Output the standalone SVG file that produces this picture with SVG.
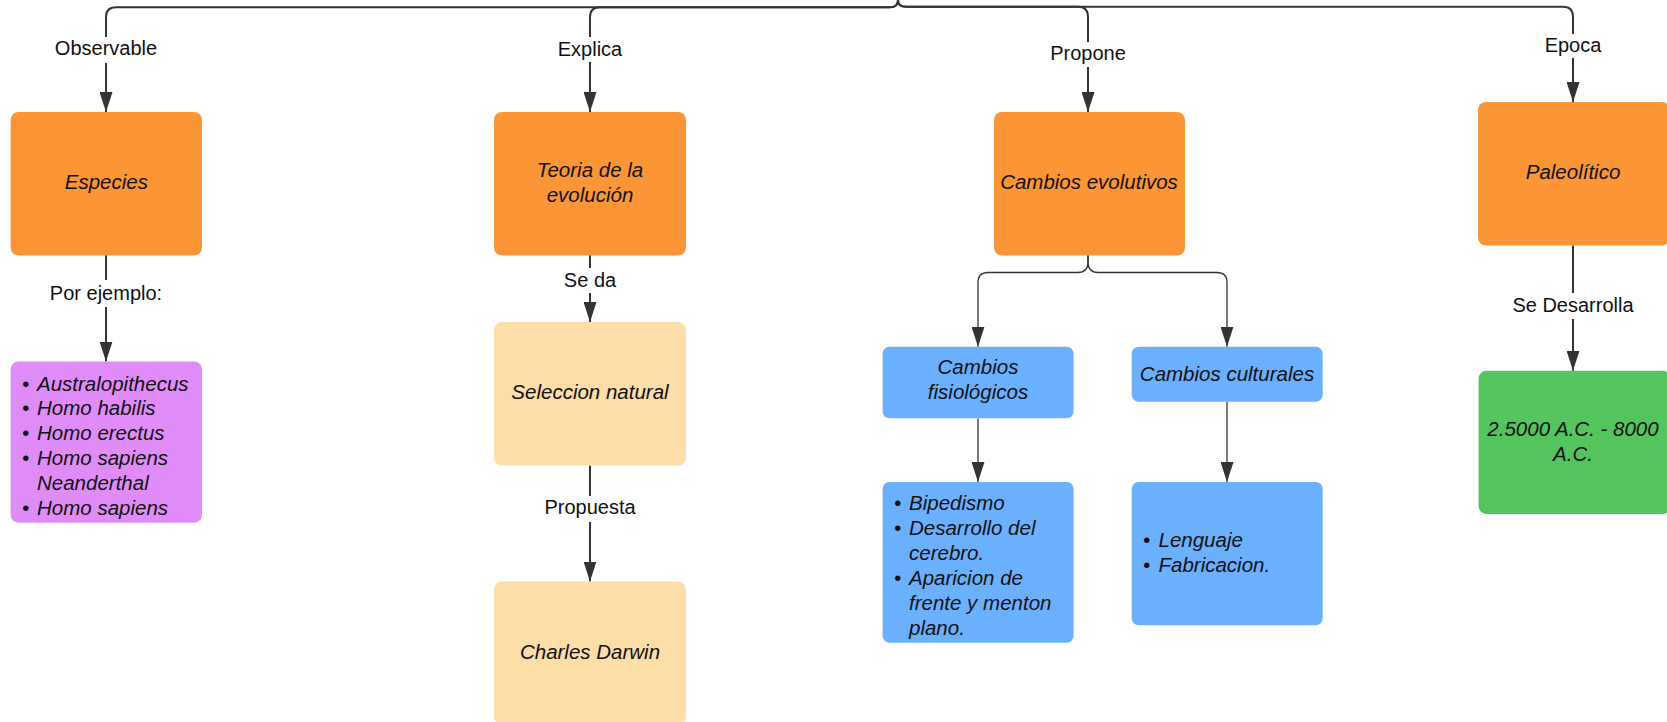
<svg xmlns="http://www.w3.org/2000/svg" width="1667" height="722" viewBox="0 0 1667 722">
<defs>
<style>
.orange{fill:#FC9535}
.purple{fill:#E08CF8}
.cream{fill:#FDDDA8}
.blue{fill:#6BB0FE}
.green{fill:#54C45E}
.nt{font-family:"Liberation Sans",Arial,sans-serif;font-size:20.5px;font-style:italic;fill:#111}
.lb{font-family:"Liberation Sans",Arial,sans-serif;font-size:20px;fill:#111;text-anchor:middle;dominant-baseline:central}
.c{text-anchor:middle;dominant-baseline:central}
.l{dominant-baseline:central}
.ln{fill:none;stroke:#333;stroke-width:2}
.thin{fill:none;stroke:#333;stroke-width:1.3}
.bg{fill:#fff}
</style>
<marker id="arr" markerWidth="20" markerHeight="13" refX="20" refY="6.5" orient="auto" markerUnits="userSpaceOnUse">
<path d="M0,0 L20,6.5 L0,13 Z" fill="#333"/>
</marker>
</defs>

<g id="connectors">
<path class="ln" d="M898,-4 L898,0 Q898,7.3 890,7.3 L116,7.3 Q106,7.3 106,17 L106,112" marker-end="url(#arr)"/>
<path class="ln" d="M898,0 Q898,7.3 890,7.3 L600,7.3 Q590,7.3 590,17 L590,112" marker-end="url(#arr)"/>
<path class="ln" d="M898,-4 L898,0 Q898,6.8 906,6.8 L1078,6.8 Q1088,6.8 1088,17 L1088,112" marker-end="url(#arr)"/>
<path class="ln" d="M898,0 Q898,6.8 906,6.8 L1563,6.8 Q1573,6.8 1573,17 L1573,102" marker-end="url(#arr)"/>
<path class="ln" d="M106,255 L106,361.5" marker-end="url(#arr)"/>
<path class="ln" d="M590,255 L590,322" marker-end="url(#arr)"/>
<path class="ln" d="M590,465.5 L590,581.5" marker-end="url(#arr)"/>
<path class="thin" d="M1088,255 L1088,262 Q1088,272.5 1078,272.5 L988,272.5 Q978,272.5 978,282.5 L978,346.7" marker-end="url(#arr)"/>
<path class="thin" d="M1088,255 L1088,262 Q1088,272.5 1098,272.5 L1217,272.5 Q1227,272.5 1227,282.5 L1227,346.7" marker-end="url(#arr)"/>
<path class="thin" d="M978,418.3 L978,482" marker-end="url(#arr)"/>
<path class="thin" d="M1227,401.7 L1227,482" marker-end="url(#arr)"/>
<path class="ln" d="M1573,245.6 L1573,370.7" marker-end="url(#arr)"/>

<rect class="bg" x="50" y="37" width="112" height="26"/>
<text class="lb" x="106" y="47.5">Observable</text>
<rect class="bg" x="552" y="37" width="76" height="25"/>
<text class="lb" x="590" y="48.5">Explica</text>
<rect class="bg" x="1046" y="42" width="84" height="25"/>
<text class="lb" x="1088" y="52.5">Propone</text>
<rect class="bg" x="1543" y="34" width="60" height="24"/>
<text class="lb" x="1573" y="44.5">Epoca</text>
<rect class="bg" x="44" y="280" width="124" height="27"/>
<text class="lb" x="106" y="293">Por ejemplo:</text>
<rect class="bg" x="560" y="268" width="60" height="25"/>
<text class="lb" x="590" y="280">Se da</text>
<rect class="bg" x="542" y="496" width="96" height="26"/>
<text class="lb" x="590" y="507">Propuesta</text>
<rect class="bg" x="1508" y="293" width="130" height="26"/>
<text class="lb" x="1573" y="305">Se Desarrolla</text>
</g>

<g id="especies">
<rect class="orange" x="10.6" y="112" width="191.4" height="143.5" rx="8"/>
<text class="nt c" x="106.3" y="181.5">Especies</text>
</g>

<g id="teoria">
<rect class="orange" x="494" y="112" width="192" height="143.5" rx="8"/>
<text class="nt c" x="590" y="169">Teoria de la</text>
<text class="nt c" x="590" y="194">evolución</text>
</g>

<g id="cambios-evolutivos">
<rect class="orange" x="994" y="112" width="191" height="143.5" rx="8"/>
<text class="nt c" x="1089" y="181.5">Cambios evolutivos</text>
</g>

<g id="paleolitico">
<rect class="orange" x="1478" y="102" width="192" height="143.6" rx="8"/>
<text class="nt c" x="1573" y="171">Paleolítico</text>
</g>

<g id="especies-lista">
<rect class="purple" x="10.6" y="361.5" width="191.4" height="161.2" rx="8"/>
<g class="nt l">
<text x="22" y="383">•</text><text x="37" y="383">Australopithecus</text>
<text x="22" y="407.8">•</text><text x="37" y="407.8">Homo habilis</text>
<text x="22" y="432.6">•</text><text x="37" y="432.6">Homo erectus</text>
<text x="22" y="457.4">•</text><text x="37" y="457.4">Homo sapiens</text>
<text x="37" y="482.2">Neanderthal</text>
<text x="22" y="507">•</text><text x="37" y="507">Homo sapiens</text>
</g>
</g>

<g id="seleccion">
<rect class="cream" x="494" y="322" width="192" height="143.5" rx="8"/>
<text class="nt c" x="590" y="391.5">Seleccion natural</text>
</g>

<g id="darwin">
<rect class="cream" x="494" y="581.5" width="192" height="143.5" rx="8"/>
<text class="nt c" x="590" y="651">Charles Darwin</text>
</g>

<g id="fisiologicos">
<rect class="blue" x="882.6" y="346.7" width="191" height="71.6" rx="7"/>
<text class="nt c" x="978" y="366">Cambios</text>
<text class="nt c" x="978" y="391">fisiológicos</text>
</g>

<g id="culturales">
<rect class="blue" x="1131.7" y="346.7" width="191" height="55" rx="7"/>
<text class="nt c" x="1227" y="373.5">Cambios culturales</text>
</g>

<g id="fisiologicos-lista">
<rect class="blue" x="882.6" y="482" width="191" height="160.7" rx="7"/>
<g class="nt l">
<text x="894" y="502.5">•</text><text x="909" y="502.5">Bipedismo</text>
<text x="894" y="527.5">•</text><text x="909" y="527.5">Desarrollo del</text>
<text x="909" y="552.5">cerebro.</text>
<text x="894" y="577.5">•</text><text x="909" y="577.5">Aparicion de</text>
<text x="909" y="602.5">frente y menton</text>
<text x="909" y="627.5">plano.</text>
</g>
</g>

<g id="culturales-lista">
<rect class="blue" x="1131.7" y="482" width="191" height="143.3" rx="7"/>
<g class="nt l">
<text x="1143" y="539">•</text><text x="1158.5" y="539">Lenguaje</text>
<text x="1143" y="564">•</text><text x="1158.5" y="564">Fabricacion.</text>
</g>
</g>

<g id="fechas">
<rect class="green" x="1478.6" y="370.7" width="192" height="143.3" rx="8"/>
<text class="nt c" x="1573" y="428">2.5000 A.C. - 8000</text>
<text class="nt c" x="1573" y="453">A.C.</text>
</g>
</svg>
